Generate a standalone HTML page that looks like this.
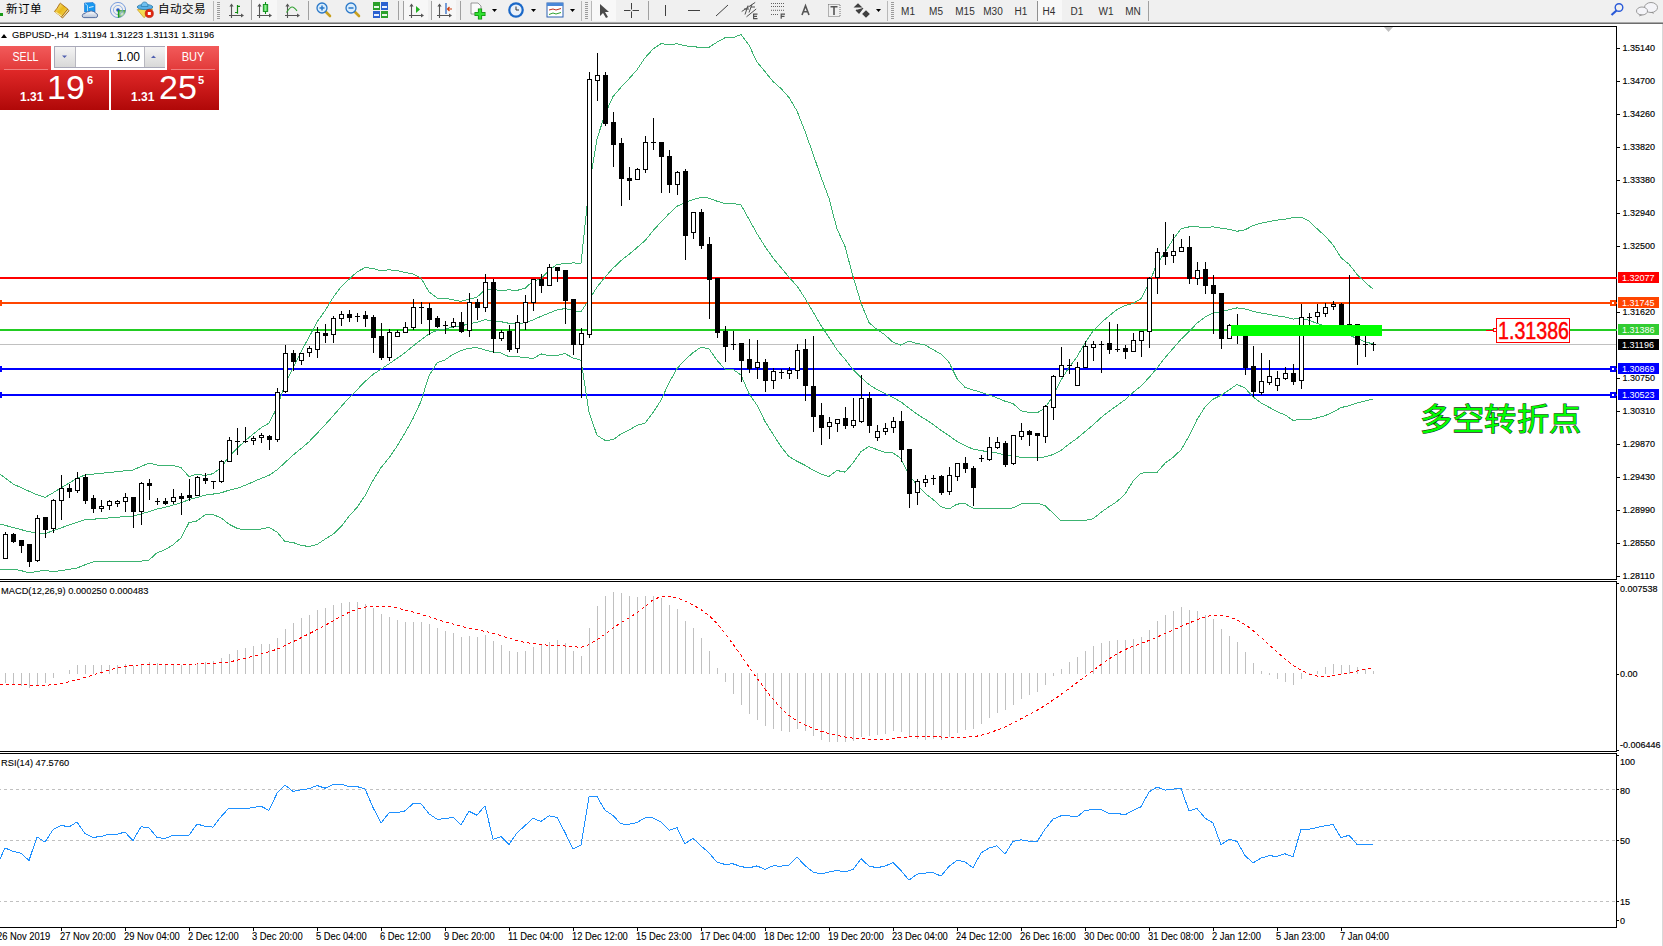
<!DOCTYPE html>
<html lang="zh-CN"><head><meta charset="utf-8">
<style>
html,body{margin:0;padding:0;width:1663px;height:946px;overflow:hidden;background:#fff;font-family:"Liberation Sans",sans-serif;}
#tb{position:absolute;left:0;top:0;width:1663px;height:22px;background:#f0f0f0;}
#tbl1{position:absolute;left:0;top:22px;width:1663px;height:1px;background:#a9a9a9;}
#tbl2{position:absolute;left:0;top:23px;width:1663px;height:1px;background:#6d6d6d;}
#rb{position:absolute;left:1662px;top:24px;width:1px;height:922px;background:#d8d8d8;}
#chart{position:absolute;left:0;top:0;}
.ax{font-family:"Liberation Sans",sans-serif;font-size:9.5px;fill:#000;stroke:#000;stroke-width:0.15px;}
.dt{font-family:"Liberation Sans",sans-serif;font-size:10px;fill:#000;stroke:#000;stroke-width:0.1px;}
.tg{font-family:"Liberation Sans",sans-serif;font-size:9.5px;fill:#fff;}
.lb{font-family:"Liberation Sans",sans-serif;font-size:9.3px;fill:#000;stroke:#000;stroke-width:0.1px;}
.tt{position:absolute;top:3px;font-size:11px;color:#000;white-space:nowrap;}
.sep{position:absolute;top:1px;width:1px;height:20px;background:#a0a0a0;}
.grip{position:absolute;top:2px;width:3px;height:18px;background:repeating-linear-gradient(#9a9a9a 0 1px,transparent 1px 2px);}
.per{position:absolute;top:6px;font-size:10px;color:#303030;}
.ocp{position:absolute;}
</style></head><body>
<div id="tb">
<svg style="position:absolute;left:0;top:0" width="1663" height="22">
<rect x="0" y="13" width="3" height="3" fill="#1a9a1a"/>
<defs><linearGradient id="bk" x1="0" y1="0" x2="1" y2="1"><stop offset="0" stop-color="#fff0a0"/><stop offset="0.5" stop-color="#e8b818"/><stop offset="1" stop-color="#f8e070"/></linearGradient><linearGradient id="cl" x1="0" y1="0" x2="0" y2="1"><stop offset="0" stop-color="#ffffff"/><stop offset="1" stop-color="#b8c4d8"/></linearGradient><radialGradient id="rg" cx="0.5" cy="0.5" r="0.5"><stop offset="0" stop-color="#e8f0e0"/><stop offset="1" stop-color="#40a040"/></radialGradient></defs>
<path d="M67.5,9 L69,10.8 L62.5,18 L61,16.6 Z" fill="#e8dca8" stroke="#a06410" stroke-width="0.9" stroke-linejoin="round"/>
<path d="M54.5,11.5 Q57.5,8 59,5 Q59.5,3.5 60.3,3.2 L67.8,9 L61.5,16.8 Z" fill="url(#bk)" stroke="#a86a10" stroke-width="0.9" stroke-linejoin="round"/>
<path d="M55.5,12 L61.5,16" stroke="#f8e8a0" stroke-width="1.2"/>
<path d="M84.5,3 L93,2.5 L95,4.5 L95,12 L84.5,12 Z" fill="#1898f0" stroke="#1a70d0" stroke-width="0.6"/>
<path d="M85,3.5 L87.5,5.5 L87.5,11.5" stroke="#c8ecff" stroke-width="0.8" fill="none"/>
<path d="M89,7.5 L93.5,6.5" stroke="#e0f4ff" stroke-width="1"/>
<path d="M83.8,17.6 Q82,17.5 82.3,15.3 Q82.7,13.2 85.2,13.5 Q86.2,11.2 89.2,11.6 Q90.8,10.2 93.2,11.4 Q95.2,11.8 95.6,13.2 Q98,13.6 97.6,16 Q97.4,17.6 95.6,17.6 Z" fill="url(#cl)" stroke="#4a6498" stroke-width="0.9"/>
<circle cx="118" cy="10" r="7.6" fill="none" stroke="#5a88d8" stroke-width="1" stroke-opacity="0.8"/>
<path d="M118,10 L118,17.6 A7.6,7.6 0 0 0 125.6,10 Z" fill="url(#rg)" fill-opacity="0.9"/>
<circle cx="118" cy="10" r="4.6" fill="none" stroke="#6a98e0" stroke-width="1" stroke-opacity="0.7"/>
<circle cx="118" cy="10" r="1.8" fill="#2858c8"/>
<path d="M118.5,10 L118.5,17.6" stroke="#20a020" stroke-width="1.3"/>
<path d="M137.3,9.6 L152.8,9 L144,17.7 Z" fill="#f4dc50" stroke="#c89820" stroke-width="0.7" stroke-linejoin="round"/>
<ellipse cx="145" cy="7" rx="7.8" ry="2.6" fill="#58b0e8" stroke="#2a78a8" stroke-width="0.8"/>
<path d="M141.2,6.5 Q141.5,2 144.5,2 Q147.8,2 148,6.5 Z" fill="#70c0f0" stroke="#2a78a8" stroke-width="0.7"/>
<circle cx="149.3" cy="13.5" r="4.1" fill="#e02810" stroke="#b01808" stroke-width="0.6"/>
<rect x="147.8" y="12" width="3" height="3" fill="#fff"/>
<rect x="213" y="1" width="1" height="20" fill="#b8b8b8"/>
<rect x="251" y="0" width="26" height="20" fill="#f7f7f7"/><rect x="251" y="0" width="1" height="20" fill="#a0a0a0"/>
<path d="M231.5,5 L231.5,18 M229,15.5 L242,15.5" stroke="#555" stroke-width="1.1" fill="none"/><path d="M229.4,6.6 L231.5,3.6 L233.6,6.6 Z M241,13.4 L244,15.5 L241,17.6 Z" fill="#555"/>
<path d="M237.5,5 L237.5,13.8 M235,12.5 L237.5,12.5 M237.5,6.3 L240,6.3" stroke="#108a10" stroke-width="1.2" fill="none"/>
<path d="M259.5,5 L259.5,18 M257,15.5 L270,15.5" stroke="#555" stroke-width="1.1" fill="none"/><path d="M257.4,6.6 L259.5,3.6 L261.6,6.6 Z M269,13.4 L272,15.5 L269,17.6 Z" fill="#555"/>
<defs><linearGradient id="cg" x1="0" y1="0" x2="1" y2="0"><stop offset="0" stop-color="#30c040"/><stop offset="0.5" stop-color="#90f090"/><stop offset="1" stop-color="#20b030"/></linearGradient></defs>
<path d="M265.5,2 L265.5,14" stroke="#10901a" stroke-width="1.1"/><rect x="263.3" y="4.5" width="4.4" height="7" fill="url(#cg)" stroke="#10901a" stroke-width="0.9"/>
<path d="M287.5,5 L287.5,18 M285,15.5 L298,15.5" stroke="#555" stroke-width="1.1" fill="none"/><path d="M285.4,6.6 L287.5,3.6 L289.6,6.6 Z M297,13.4 L300,15.5 L297,17.6 Z" fill="#555"/>
<path d="M286.5,12.5 Q290,7 292.2,7 Q294,7 297,10.8" stroke="#30a030" stroke-width="1.1" fill="none"/>
<rect x="308" y="1" width="1" height="19" fill="#a0a0a0"/>
<path d="M325,11 L330,16" stroke="#c8a020" stroke-width="2.6" stroke-linecap="round"/>
<circle cx="322" cy="8" r="5" fill="#d8ecfc" stroke="#2a78c8" stroke-width="1.3"/>
<path d="M319.5,8 L324.5,8" stroke="#2a78c8" stroke-width="1.5"/>
<path d="M322,5.5 L322,10.5" stroke="#2a78c8" stroke-width="1.5"/>
<path d="M354,11 L359,16" stroke="#c8a020" stroke-width="2.6" stroke-linecap="round"/>
<circle cx="351" cy="8" r="5" fill="#d8ecfc" stroke="#2a78c8" stroke-width="1.3"/>
<path d="M348.5,8 L353.5,8" stroke="#2a78c8" stroke-width="1.5"/>
<rect x="373" y="2" width="7" height="8" fill="#2aa02a"/><rect x="381" y="2" width="7" height="8" fill="#2a60d0"/>
<rect x="373" y="11" width="7" height="7" fill="#2a60d0"/><rect x="381" y="11" width="7" height="7" fill="#2aa02a"/>
<rect x="374" y="6" width="5" height="2" fill="#e8f8e8"/><rect x="382" y="6" width="5" height="2" fill="#e8f0ff"/><rect x="374" y="14" width="5" height="2" fill="#e8f0ff"/><rect x="382" y="14" width="5" height="2" fill="#e8f8e8"/>
<rect x="398" y="1" width="1" height="19" fill="#a0a0a0"/>
<rect x="404" y="0" width="24" height="20" fill="#f7f7f7"/><rect x="432" y="0" width="24" height="20" fill="#f7f7f7"/>
<rect x="403" y="1" width="1" height="19" fill="#a0a0a0"/>
<path d="M411.5,5 L411.5,18 M409,15.5 L422,15.5" stroke="#555" stroke-width="1.1" fill="none"/><path d="M409.4,6.6 L411.5,3.6 L413.6,6.6 Z M421,13.4 L424,15.5 L421,17.6 Z" fill="#555"/>
<path d="M416,6 L420,9.5 L416,13 Z" fill="#20b020"/>
<rect x="431" y="1" width="1" height="19" fill="#a0a0a0"/>
<path d="M439.5,5 L439.5,18 M437,15.5 L450,15.5" stroke="#555" stroke-width="1.1" fill="none"/><path d="M437.4,6.6 L439.5,3.6 L441.6,6.6 Z M449,13.4 L452,15.5 L449,17.6 Z" fill="#555"/>
<path d="M446,3 L446,14" stroke="#2060c0" stroke-width="1.2"/><path d="M452,9 L447.5,9 M449.5,7 L447.5,9 L449.5,11" stroke="#d04010" stroke-width="1.2" fill="none"/>
<rect x="460" y="1" width="1" height="19" fill="#a0a0a0"/>
<path d="M471,3 L478,3 L481,6 L481,14 L471,14 Z" fill="#fafafa" stroke="#808080" stroke-width="0.8"/>
<path d="M480,8.5 L480,19.5 M474.5,14 L485.5,14" stroke="#108a10" stroke-width="4.2"/><path d="M480,9.2 L480,18.8 M475.2,14 L484.8,14" stroke="#30e030" stroke-width="2.6"/>
<path d="M492,9 L497,9 L494.5,12 Z" fill="#000"/>
<circle cx="516" cy="10" r="7.8" fill="#1a68c8"/><circle cx="516" cy="10" r="5.6" fill="#e8f0fa"/><path d="M516,6.5 L516,10 L519,10" stroke="#333" stroke-width="1" fill="none"/>
<path d="M531,9 L536,9 L533.5,12 Z" fill="#000"/>
<rect x="547" y="3" width="16" height="14" fill="#fff" stroke="#2a60b0" stroke-width="1"/><rect x="547" y="3" width="16" height="3" fill="#4a88d8"/>
<path d="M549,10 L553,9 L556,10 L561,8.5" stroke="#c03020" stroke-width="1" fill="none"/><path d="M549,14.5 L553,13 L556,14 L561,12.5" stroke="#30a030" stroke-width="1" fill="none"/>
<path d="M570,9 L575,9 L572.5,12 Z" fill="#000"/>
<rect x="581" y="1" width="1" height="20" fill="#b8b8b8"/>
<rect x="592" y="0" width="24" height="21" fill="#f8f8f8"/>
<rect x="591" y="1" width="1" height="20" fill="#b8b8b8"/>
<path d="M600,4 L600,16 L603,13 L606,18 L608,17 L605,12 L609,12 Z" fill="#4a4a4a"/>
<path d="M631.5,3 L631.5,18 M624,10.5 L639,10.5" stroke="#404040" stroke-width="1" shape-rendering="crispEdges"/><rect x="630.5" y="9.5" width="2" height="2" fill="#f0f0f0"/>
<rect x="648" y="1" width="1" height="19" fill="#a0a0a0"/>
<path d="M665.5,5 L665.5,16 M688,10.5 L700,10.5" stroke="#404040" stroke-width="1" shape-rendering="crispEdges"/>
<path d="M716,16 L728,5" stroke="#404040" stroke-width="1"/>
<path d="M741.7,11.5 L755.2,2.4 M746.5,16.8 L756.2,9 M744,9 L749,9 M748,5.5 L745,14.5 M752,4.5 L749,12.5 M750.5,7 L755,7" stroke="#505050" stroke-width="1" fill="none"/>
<path d="M757.5,14.2 L753.6,14.2 L753.6,18.6 L757.5,18.6 M753.6,16.4 L757,16.4" stroke="#505050" stroke-width="1.2" fill="none"/>
<path d="M771,3.5 L784,3.5 M771,6.5 L784,6.5 M771,10.3 L784,10.3 M771,14.5 L779,14.5" stroke="#505050" stroke-width="0.9" stroke-dasharray="1 1"/>
<path d="M785,14.2 L781.2,14.2 L781.2,18.8 M781.2,16.4 L784.5,16.4" stroke="#505050" stroke-width="1.2" fill="none"/>
<path d="M802,15 L805.5,5.8 L809,15 M803.3,11.8 L807.7,11.8" stroke="#555" stroke-width="1.6" fill="none"/>
<rect x="828.5" y="4.5" width="11.5" height="12" fill="none" stroke="#606060" stroke-width="0.9" stroke-dasharray="1 1"/><path d="M830.5,6.8 L837.5,6.8 M834,6.8 L834,15" stroke="#555" stroke-width="1.6"/>
<path d="M855,7 L858,4 L861,7 Z M863,14 L866,11 L869,14 L866,17 Z M856,10 L859,13 L863,8" fill="#404040" stroke="#404040" stroke-width="1.2"/>
<path d="M876,9 L881,9 L878.5,12 Z" fill="#000"/>
<rect x="887" y="1" width="1" height="20" fill="#b8b8b8"/>
<rect x="1037" y="0" width="25" height="21" fill="#f8f8f8"/><rect x="1037" y="1" width="1" height="20" fill="#909090"/>
<rect x="1148" y="1" width="1" height="20" fill="#a0a0a0"/>
<circle cx="1619" cy="7.5" r="3.8" fill="none" stroke="#2a5ad8" stroke-width="1.4"/><path d="M1616.5,10.5 L1611.5,15" stroke="#2a5ad8" stroke-width="2.2"/>
<ellipse cx="1651" cy="7.5" rx="6.5" ry="5" fill="#f4f4f8" stroke="#909090" stroke-width="0.9"/><path d="M1653,12 L1654,14 L1650,12" fill="#909090"/>
<ellipse cx="1642" cy="11" rx="5.5" ry="4" fill="#f4f4f8" stroke="#909090" stroke-width="0.9"/><path d="M1640,14.5 L1639,16.5 L1643,14.8" fill="#909090"/>
</svg>
<div class="grip" style="left:217px"></div>
<div class="grip" style="left:585px"></div>
<div class="grip" style="left:891px"></div>
<div class="tt" style="left:6px;top:0px;font-size:11.6px">新订单</div>
<div class="tt" style="left:158px;top:0px;font-size:11.6px">自动交易</div>
<div class="per" style="left:908px;transform:translateX(-50%)">M1</div>
<div class="per" style="left:936px;transform:translateX(-50%)">M5</div>
<div class="per" style="left:965px;transform:translateX(-50%)">M15</div>
<div class="per" style="left:993px;transform:translateX(-50%)">M30</div>
<div class="per" style="left:1021px;transform:translateX(-50%)">H1</div>
<div class="per" style="left:1049px;transform:translateX(-50%)">H4</div>
<div class="per" style="left:1077px;transform:translateX(-50%)">D1</div>
<div class="per" style="left:1106px;transform:translateX(-50%)">W1</div>
<div class="per" style="left:1133px;transform:translateX(-50%)">MN</div>
</div>
<div id="tbl1"></div><div id="tbl2"></div><div id="rb"></div>
<svg id="chart" width="1663" height="946">
<g shape-rendering="crispEdges">
<rect x="0" y="26" width="1617" height="1" fill="#000"/>
<rect x="1616" y="26" width="1" height="554" fill="#000"/>
<rect x="1616" y="581" width="1" height="171" fill="#000"/>
<rect x="1616" y="753" width="1" height="175" fill="#000"/>
<rect x="0" y="579" width="1617" height="1" fill="#000"/>
<rect x="0" y="581" width="1617" height="1" fill="#000"/>
<rect x="0" y="751" width="1617" height="1" fill="#000"/>
<rect x="0" y="753" width="1617" height="1" fill="#000"/>
<rect x="0" y="927" width="1617" height="1" fill="#000"/>
</g>
<polygon points="1384,27 1393,27 1388.5,32" fill="#c0c0c0"/>
<g shape-rendering="crispEdges">
<rect x="1617" y="48" width="3" height="1" fill="#000"/>
<rect x="1617" y="81" width="3" height="1" fill="#000"/>
<rect x="1617" y="114" width="3" height="1" fill="#000"/>
<rect x="1617" y="147" width="3" height="1" fill="#000"/>
<rect x="1617" y="180" width="3" height="1" fill="#000"/>
<rect x="1617" y="213" width="3" height="1" fill="#000"/>
<rect x="1617" y="246" width="3" height="1" fill="#000"/>
<rect x="1617" y="312" width="3" height="1" fill="#000"/>
<rect x="1617" y="378" width="3" height="1" fill="#000"/>
<rect x="1617" y="411" width="3" height="1" fill="#000"/>
<rect x="1617" y="444" width="3" height="1" fill="#000"/>
<rect x="1617" y="477" width="3" height="1" fill="#000"/>
<rect x="1617" y="510" width="3" height="1" fill="#000"/>
<rect x="1617" y="543" width="3" height="1" fill="#000"/>
<rect x="1617" y="576" width="3" height="1" fill="#000"/>
</g>
<text transform="translate(1622.5,51.3) scale(0.95,1)" class="ax">1.35140</text>
<text transform="translate(1622.5,84.3) scale(0.95,1)" class="ax">1.34700</text>
<text transform="translate(1622.5,117.3) scale(0.95,1)" class="ax">1.34260</text>
<text transform="translate(1622.5,150.3) scale(0.95,1)" class="ax">1.33820</text>
<text transform="translate(1622.5,183.3) scale(0.95,1)" class="ax">1.33380</text>
<text transform="translate(1622.5,216.3) scale(0.95,1)" class="ax">1.32940</text>
<text transform="translate(1622.5,249.3) scale(0.95,1)" class="ax">1.32500</text>
<text transform="translate(1622.5,315.3) scale(0.95,1)" class="ax">1.31620</text>
<text transform="translate(1622.5,381.3) scale(0.95,1)" class="ax">1.30750</text>
<text transform="translate(1622.5,414.3) scale(0.95,1)" class="ax">1.30310</text>
<text transform="translate(1622.5,447.3) scale(0.95,1)" class="ax">1.29870</text>
<text transform="translate(1622.5,480.3) scale(0.95,1)" class="ax">1.29430</text>
<text transform="translate(1622.5,513.3) scale(0.95,1)" class="ax">1.28990</text>
<text transform="translate(1622.5,546.3) scale(0.95,1)" class="ax">1.28550</text>
<text transform="translate(1622.5,579.3) scale(0.95,1)" class="ax">1.28110</text>
<g shape-rendering="crispEdges">
<rect x="0" y="344" width="1616" height="1" fill="#c0c0c0"/>
<rect x="0" y="277" width="1617" height="2" fill="#ff0000"/>
<rect x="0" y="302" width="1617" height="2" fill="#ff4500"/>
<rect x="0" y="329" width="1617" height="2" fill="#22cc22"/>
<rect x="0" y="368" width="1617" height="2" fill="#0000ff"/>
<rect x="0" y="394" width="1617" height="2" fill="#0000ff"/>
</g>
<polyline points="0,474.0 5,477.8 13,484.0 21,487.6 29,491.2 37,494.8 45,497.4 53,492.8 61,487.9 69,483.1 77,478.5 85,474.9 93,474.1 101,473.3 109,472.5 117,471.7 125,470.8 133,470.0 141,466.5 149,463.0 157,465.0 165,465.0 173,465.5 181,467.6 189,476.6 197,474.2 205,475.4 213,473.7 221,467.8 229,456.3 237,448.5 245,440.9 253,434.2 261,427.8 269,423.1 277,407.7 285,383.7 293,367.9 301,351.8 309,337.2 317,322.1 325,310.7 333,297.7 341,286.9 349,279.3 357,272.0 365,267.6 373,268.5 381,270.9 389,269.8 397,270.5 405,272.5 413,273.8 421,278.2 429,291.8 437,298.0 445,298.2 453,299.9 461,301.4 469,299.2 477,297.2 485,289.7 493,289.7 501,290.4 509,289.9 517,290.4 525,288.3 533,281.2 541,278.7 549,270.5 557,264.5 565,263.6 573,262.9 581,263.3 589,187.5 597,139.1 605,113.9 613,96.6 621,87.2 629,78.8 637,69.8 645,57.9 653,49.0 661,43.6 669,44.6 677,43.8 685,45.9 693,46.3 701,47.9 709,47.3 717,42.2 725,37.7 733,37.7 741,34.5 749,45.1 757,62.1 765,71.6 773,81.5 781,88.5 789,97.5 797,111.0 805,131.3 813,153.8 821,177.0 829,198.3 837,229.0 845,246.4 853,276.4 861,303.0 869,322.7 877,329.5 885,334.9 893,342.2 901,345.2 909,341.2 917,343.5 925,345.0 933,349.5 941,354.1 949,362.3 957,378.6 965,387.4 973,389.9 981,392.2 989,394.9 997,397.9 1005,401.2 1013,403.5 1021,410.8 1029,412.3 1037,413.0 1045,408.1 1053,396.2 1061,380.1 1069,367.4 1077,356.7 1085,343.0 1093,331.2 1101,322.8 1109,315.9 1117,309.6 1125,305.4 1133,303.6 1141,298.8 1149,283.2 1157,263.8 1165,252.2 1173,239.6 1181,228.7 1189,226.9 1197,226.9 1205,227.4 1213,226.9 1221,228.1 1229,229.4 1237,231.3 1245,229.8 1253,225.6 1261,223.2 1269,221.7 1277,220.1 1285,219.2 1293,217.7 1301,217.2 1309,220.8 1317,228.7 1325,236.0 1333,244.8 1341,257.7 1349,264.2 1357,274.4 1365,282.2 1373,289.1" fill="none" stroke="#3cb371" stroke-width="1" shape-rendering="crispEdges"/>
<polyline points="0,524.0 5,525.3 13,527.5 21,529.6 29,531.7 37,533.0 45,533.6 53,530.8 61,527.9 69,525.0 77,522.2 85,519.8 93,519.2 101,518.6 109,517.9 117,517.3 125,516.6 133,516.0 141,513.9 149,511.7 157,508.9 165,507.4 173,505.1 181,502.8 189,499.6 197,497.6 205,495.1 213,494.1 221,492.8 229,490.2 237,488.4 245,485.4 253,481.9 261,478.4 269,475.3 277,469.9 285,462.6 293,455.1 301,448.6 309,441.8 317,433.4 325,424.9 333,416.0 341,406.8 349,397.8 357,389.8 365,381.6 373,374.4 381,369.2 389,363.9 397,358.4 405,352.7 413,346.1 421,339.8 429,333.8 437,330.4 445,329.1 453,327.1 461,326.0 469,323.7 477,322.4 485,319.8 493,320.8 501,321.7 509,323.3 517,323.6 525,322.8 533,319.9 541,316.3 549,313.1 557,309.9 565,308.6 573,310.4 581,311.8 589,299.8 597,287.2 605,277.1 613,268.2 621,260.6 629,254.4 637,247.6 645,240.6 653,230.8 661,221.9 669,213.7 677,206.2 685,202.8 693,199.5 701,197.5 709,198.1 717,201.2 725,203.5 733,203.5 741,204.8 749,219.3 757,233.7 765,246.5 773,257.9 781,267.6 789,277.1 797,286.1 805,298.2 813,311.9 821,325.5 829,337.4 837,349.8 845,359.2 853,369.6 861,377.3 869,384.6 877,389.6 885,393.6 893,397.5 901,401.9 909,408.2 917,414.1 925,419.1 933,424.4 941,430.4 949,435.7 957,441.4 965,445.5 973,449.1 981,450.6 989,451.9 997,453.0 1005,454.9 1013,455.7 1021,457.4 1029,457.8 1037,458.0 1045,456.9 1053,454.6 1061,450.4 1069,444.1 1077,438.4 1085,431.7 1093,425.0 1101,417.6 1109,411.3 1117,405.6 1125,399.8 1133,392.4 1141,386.1 1149,377.6 1157,368.1 1165,357.7 1173,348.5 1181,339.3 1189,331.5 1197,323.2 1205,317.2 1213,313.1 1221,311.7 1229,309.7 1237,307.9 1245,308.9 1253,311.2 1261,313.1 1269,314.4 1277,315.9 1285,317.0 1293,319.1 1301,318.4 1309,320.3 1317,323.3 1325,325.9 1333,328.5 1341,332.6 1349,334.9 1357,338.6 1365,341.6 1373,344.1" fill="none" stroke="#3cb371" stroke-width="1" shape-rendering="crispEdges"/>
<polyline points="0,570.0 5,569.7 13,569.1 21,570.6 29,572.7 37,571.5 45,570.2 53,571.8 61,570.6 69,569.3 77,568.0 85,564.8 93,562.0 101,561.8 109,561.7 117,561.6 125,561.4 133,561.3 141,561.1 149,560.0 157,552.8 165,549.7 173,544.8 181,538.0 189,522.6 197,520.9 205,514.8 213,514.6 221,517.8 229,524.2 237,528.3 245,530.0 253,529.7 261,529.0 269,527.5 277,532.0 285,541.6 293,542.4 301,545.5 309,546.4 317,544.6 325,539.2 333,534.3 341,526.7 349,516.3 357,507.5 365,495.7 373,480.4 381,467.6 389,457.9 397,446.3 405,432.9 413,418.5 421,401.3 429,375.7 437,362.9 445,359.9 453,354.3 461,350.6 469,348.2 477,347.7 485,349.9 493,351.9 501,353.0 509,356.7 517,356.8 525,357.3 533,358.6 541,353.9 549,355.6 557,355.4 565,353.6 573,358.0 581,360.2 589,412.0 597,435.3 605,440.3 613,439.8 621,433.9 629,430.1 637,425.3 645,423.2 653,412.5 661,400.3 669,382.8 677,368.6 685,359.8 693,352.7 701,347.1 709,348.9 717,360.2 725,369.3 733,369.3 741,375.2 749,393.5 757,405.2 765,421.4 773,434.2 781,446.6 789,456.6 797,461.2 805,465.2 813,470.1 821,474.0 829,476.5 837,470.5 845,472.1 853,462.9 861,451.6 869,446.5 877,449.6 885,452.4 893,452.8 901,458.7 909,475.2 917,484.8 925,493.2 933,499.4 941,506.8 949,509.1 957,504.1 965,503.6 973,508.2 981,509.0 989,508.8 997,508.1 1005,508.7 1013,507.9 1021,503.9 1029,503.3 1037,503.0 1045,505.7 1053,513.1 1061,520.8 1069,520.7 1077,520.0 1085,520.4 1093,518.8 1101,512.4 1109,506.7 1117,501.6 1125,494.1 1133,481.2 1141,473.3 1149,472.0 1157,472.4 1165,463.2 1173,457.4 1181,449.9 1189,436.1 1197,419.6 1205,407.0 1213,399.2 1221,395.3 1229,390.0 1237,384.4 1245,388.0 1253,396.9 1261,403.0 1269,407.2 1277,411.7 1285,414.8 1293,420.4 1301,419.5 1309,419.8 1317,417.9 1325,415.7 1333,412.2 1341,407.6 1349,405.7 1357,402.9 1365,401.0 1373,399.2" fill="none" stroke="#3cb371" stroke-width="1" shape-rendering="crispEdges"/>
<g shape-rendering="crispEdges" fill="#000">
<rect x="5" y="532" width="1" height="27"/>
<rect x="3" y="534" width="5" height="25"/>
<rect x="4" y="535" width="3" height="23" fill="#fff"/>
<rect x="13" y="533" width="1" height="10"/>
<rect x="11" y="534" width="5" height="8"/>
<rect x="21" y="540" width="1" height="13"/>
<rect x="19" y="540" width="5" height="6"/>
<rect x="29" y="544" width="1" height="23"/>
<rect x="27" y="544" width="5" height="18"/>
<rect x="37" y="515" width="1" height="47"/>
<rect x="35" y="518" width="5" height="43"/>
<rect x="36" y="519" width="3" height="41" fill="#fff"/>
<rect x="45" y="517" width="1" height="21"/>
<rect x="43" y="517" width="5" height="13"/>
<rect x="53" y="499" width="1" height="34"/>
<rect x="51" y="500" width="5" height="29"/>
<rect x="52" y="501" width="3" height="27" fill="#fff"/>
<rect x="61" y="475" width="1" height="45"/>
<rect x="59" y="488" width="5" height="13"/>
<rect x="60" y="489" width="3" height="11" fill="#fff"/>
<rect x="69" y="484" width="1" height="14"/>
<rect x="67" y="488" width="5" height="4"/>
<rect x="77" y="472" width="1" height="21"/>
<rect x="75" y="478" width="5" height="13"/>
<rect x="76" y="479" width="3" height="11" fill="#fff"/>
<rect x="85" y="474" width="1" height="30"/>
<rect x="83" y="477" width="5" height="24"/>
<rect x="93" y="495" width="1" height="18"/>
<rect x="91" y="498" width="5" height="11"/>
<rect x="101" y="500" width="1" height="12"/>
<rect x="99" y="506" width="5" height="3"/>
<rect x="100" y="507" width="3" height="1" fill="#fff"/>
<rect x="109" y="500" width="1" height="10"/>
<rect x="107" y="501" width="5" height="5"/>
<rect x="108" y="502" width="3" height="3" fill="#fff"/>
<rect x="117" y="500" width="1" height="7"/>
<rect x="115" y="501" width="5" height="3"/>
<rect x="116" y="502" width="3" height="1" fill="#fff"/>
<rect x="125" y="493" width="1" height="19"/>
<rect x="123" y="497" width="5" height="5"/>
<rect x="124" y="498" width="3" height="3" fill="#fff"/>
<rect x="133" y="497" width="1" height="31"/>
<rect x="131" y="497" width="5" height="15"/>
<rect x="141" y="482" width="1" height="43"/>
<rect x="139" y="483" width="5" height="29"/>
<rect x="140" y="484" width="3" height="27" fill="#fff"/>
<rect x="149" y="479" width="1" height="21"/>
<rect x="147" y="483" width="5" height="3"/>
<rect x="157" y="498" width="1" height="7"/>
<rect x="155" y="501" width="5" height="1"/>
<rect x="165" y="498" width="1" height="7"/>
<rect x="163" y="501" width="5" height="3"/>
<rect x="173" y="489" width="1" height="15"/>
<rect x="171" y="497" width="5" height="5"/>
<rect x="172" y="498" width="3" height="3" fill="#fff"/>
<rect x="181" y="493" width="1" height="22"/>
<rect x="179" y="496" width="5" height="3"/>
<rect x="189" y="479" width="1" height="22"/>
<rect x="187" y="495" width="5" height="3"/>
<rect x="197" y="476" width="1" height="20"/>
<rect x="195" y="477" width="5" height="19"/>
<rect x="196" y="478" width="3" height="17" fill="#fff"/>
<rect x="205" y="473" width="1" height="11"/>
<rect x="203" y="478" width="5" height="3"/>
<rect x="213" y="481" width="1" height="8"/>
<rect x="211" y="481" width="5" height="1"/>
<rect x="221" y="460" width="1" height="23"/>
<rect x="219" y="461" width="5" height="21"/>
<rect x="220" y="462" width="3" height="19" fill="#fff"/>
<rect x="229" y="437" width="1" height="25"/>
<rect x="227" y="440" width="5" height="22"/>
<rect x="228" y="441" width="3" height="20" fill="#fff"/>
<rect x="237" y="428" width="1" height="27"/>
<rect x="235" y="441" width="5" height="1"/>
<rect x="245" y="427" width="1" height="16"/>
<rect x="243" y="441" width="5" height="1"/>
<rect x="253" y="436" width="1" height="9"/>
<rect x="251" y="438" width="5" height="3"/>
<rect x="252" y="439" width="3" height="1" fill="#fff"/>
<rect x="261" y="433" width="1" height="10"/>
<rect x="259" y="435" width="5" height="3"/>
<rect x="260" y="436" width="3" height="1" fill="#fff"/>
<rect x="269" y="435" width="1" height="15"/>
<rect x="267" y="436" width="5" height="4"/>
<rect x="277" y="388" width="1" height="54"/>
<rect x="275" y="392" width="5" height="48"/>
<rect x="276" y="393" width="3" height="46" fill="#fff"/>
<rect x="285" y="345" width="1" height="48"/>
<rect x="283" y="353" width="5" height="39"/>
<rect x="284" y="354" width="3" height="37" fill="#fff"/>
<rect x="293" y="350" width="1" height="21"/>
<rect x="291" y="353" width="5" height="9"/>
<rect x="301" y="353" width="1" height="12"/>
<rect x="299" y="353" width="5" height="8"/>
<rect x="300" y="354" width="3" height="6" fill="#fff"/>
<rect x="309" y="346" width="1" height="11"/>
<rect x="307" y="348" width="5" height="5"/>
<rect x="308" y="349" width="3" height="3" fill="#fff"/>
<rect x="317" y="327" width="1" height="31"/>
<rect x="315" y="332" width="5" height="18"/>
<rect x="316" y="333" width="3" height="16" fill="#fff"/>
<rect x="325" y="324" width="1" height="19"/>
<rect x="323" y="333" width="5" height="3"/>
<rect x="333" y="316" width="1" height="27"/>
<rect x="331" y="318" width="5" height="17"/>
<rect x="332" y="319" width="3" height="15" fill="#fff"/>
<rect x="341" y="311" width="1" height="15"/>
<rect x="339" y="314" width="5" height="5"/>
<rect x="340" y="315" width="3" height="3" fill="#fff"/>
<rect x="349" y="310" width="1" height="12"/>
<rect x="347" y="314" width="5" height="4"/>
<rect x="357" y="313" width="1" height="9"/>
<rect x="355" y="316" width="5" height="1"/>
<rect x="365" y="311" width="1" height="16"/>
<rect x="363" y="315" width="5" height="4"/>
<rect x="373" y="315" width="1" height="38"/>
<rect x="371" y="317" width="5" height="21"/>
<rect x="381" y="323" width="1" height="37"/>
<rect x="379" y="336" width="5" height="22"/>
<rect x="389" y="329" width="1" height="32"/>
<rect x="387" y="332" width="5" height="26"/>
<rect x="388" y="333" width="3" height="24" fill="#fff"/>
<rect x="397" y="330" width="1" height="7"/>
<rect x="395" y="332" width="5" height="5"/>
<rect x="396" y="333" width="3" height="3" fill="#fff"/>
<rect x="405" y="322" width="1" height="11"/>
<rect x="403" y="327" width="5" height="6"/>
<rect x="404" y="328" width="3" height="4" fill="#fff"/>
<rect x="413" y="299" width="1" height="31"/>
<rect x="411" y="307" width="5" height="21"/>
<rect x="412" y="308" width="3" height="19" fill="#fff"/>
<rect x="421" y="302" width="1" height="22"/>
<rect x="419" y="307" width="5" height="1"/>
<rect x="429" y="303" width="1" height="32"/>
<rect x="427" y="308" width="5" height="12"/>
<rect x="437" y="316" width="1" height="12"/>
<rect x="435" y="318" width="5" height="9"/>
<rect x="445" y="321" width="1" height="13"/>
<rect x="443" y="325" width="5" height="1"/>
<rect x="453" y="318" width="1" height="10"/>
<rect x="451" y="322" width="5" height="5"/>
<rect x="452" y="323" width="3" height="3" fill="#fff"/>
<rect x="461" y="312" width="1" height="21"/>
<rect x="459" y="322" width="5" height="10"/>
<rect x="469" y="293" width="1" height="44"/>
<rect x="467" y="302" width="5" height="29"/>
<rect x="468" y="303" width="3" height="27" fill="#fff"/>
<rect x="477" y="299" width="1" height="21"/>
<rect x="475" y="302" width="5" height="6"/>
<rect x="485" y="274" width="1" height="38"/>
<rect x="483" y="282" width="5" height="26"/>
<rect x="484" y="283" width="3" height="24" fill="#fff"/>
<rect x="493" y="279" width="1" height="74"/>
<rect x="491" y="282" width="5" height="57"/>
<rect x="501" y="330" width="1" height="11"/>
<rect x="499" y="332" width="5" height="7"/>
<rect x="500" y="333" width="3" height="5" fill="#fff"/>
<rect x="509" y="325" width="1" height="27"/>
<rect x="507" y="331" width="5" height="19"/>
<rect x="517" y="315" width="1" height="38"/>
<rect x="515" y="322" width="5" height="27"/>
<rect x="516" y="323" width="3" height="25" fill="#fff"/>
<rect x="525" y="295" width="1" height="35"/>
<rect x="523" y="302" width="5" height="21"/>
<rect x="524" y="303" width="3" height="19" fill="#fff"/>
<rect x="533" y="279" width="1" height="32"/>
<rect x="531" y="279" width="5" height="24"/>
<rect x="532" y="280" width="3" height="22" fill="#fff"/>
<rect x="541" y="274" width="1" height="19"/>
<rect x="539" y="279" width="5" height="7"/>
<rect x="549" y="264" width="1" height="22"/>
<rect x="547" y="267" width="5" height="19"/>
<rect x="548" y="268" width="3" height="17" fill="#fff"/>
<rect x="557" y="267" width="1" height="15"/>
<rect x="555" y="267" width="5" height="4"/>
<rect x="565" y="270" width="1" height="54"/>
<rect x="563" y="270" width="5" height="31"/>
<rect x="573" y="299" width="1" height="56"/>
<rect x="571" y="299" width="5" height="46"/>
<rect x="581" y="328" width="1" height="70"/>
<rect x="579" y="333" width="5" height="12"/>
<rect x="580" y="334" width="3" height="10" fill="#fff"/>
<rect x="589" y="72" width="1" height="266"/>
<rect x="587" y="79" width="5" height="256"/>
<rect x="588" y="80" width="3" height="254" fill="#fff"/>
<rect x="597" y="53" width="1" height="48"/>
<rect x="595" y="75" width="5" height="6"/>
<rect x="596" y="76" width="3" height="4" fill="#fff"/>
<rect x="605" y="72" width="1" height="54"/>
<rect x="603" y="75" width="5" height="49"/>
<rect x="613" y="112" width="1" height="55"/>
<rect x="611" y="122" width="5" height="23"/>
<rect x="621" y="138" width="1" height="68"/>
<rect x="619" y="143" width="5" height="36"/>
<rect x="629" y="167" width="1" height="33"/>
<rect x="627" y="178" width="5" height="3"/>
<rect x="637" y="168" width="1" height="12"/>
<rect x="635" y="169" width="5" height="11"/>
<rect x="636" y="170" width="3" height="9" fill="#fff"/>
<rect x="645" y="136" width="1" height="37"/>
<rect x="643" y="142" width="5" height="28"/>
<rect x="644" y="143" width="3" height="26" fill="#fff"/>
<rect x="653" y="118" width="1" height="32"/>
<rect x="651" y="142" width="5" height="1"/>
<rect x="661" y="142" width="1" height="51"/>
<rect x="659" y="142" width="5" height="15"/>
<rect x="669" y="150" width="1" height="43"/>
<rect x="667" y="156" width="5" height="29"/>
<rect x="677" y="171" width="1" height="24"/>
<rect x="675" y="172" width="5" height="13"/>
<rect x="676" y="173" width="3" height="11" fill="#fff"/>
<rect x="685" y="169" width="1" height="91"/>
<rect x="683" y="171" width="5" height="65"/>
<rect x="693" y="212" width="1" height="27"/>
<rect x="691" y="212" width="5" height="21"/>
<rect x="692" y="213" width="3" height="19" fill="#fff"/>
<rect x="701" y="209" width="1" height="40"/>
<rect x="699" y="212" width="5" height="34"/>
<rect x="709" y="237" width="1" height="82"/>
<rect x="707" y="244" width="5" height="36"/>
<rect x="717" y="278" width="1" height="60"/>
<rect x="715" y="278" width="5" height="55"/>
<rect x="725" y="326" width="1" height="36"/>
<rect x="723" y="331" width="5" height="16"/>
<rect x="733" y="331" width="1" height="19"/>
<rect x="731" y="344" width="5" height="1"/>
<rect x="741" y="343" width="1" height="39"/>
<rect x="739" y="343" width="5" height="18"/>
<rect x="749" y="339" width="1" height="34"/>
<rect x="747" y="359" width="5" height="10"/>
<rect x="757" y="340" width="1" height="39"/>
<rect x="755" y="362" width="5" height="6"/>
<rect x="756" y="363" width="3" height="4" fill="#fff"/>
<rect x="765" y="359" width="1" height="33"/>
<rect x="763" y="362" width="5" height="19"/>
<rect x="773" y="368" width="1" height="21"/>
<rect x="771" y="371" width="5" height="10"/>
<rect x="772" y="372" width="3" height="8" fill="#fff"/>
<rect x="781" y="369" width="1" height="10"/>
<rect x="779" y="372" width="5" height="1"/>
<rect x="789" y="367" width="1" height="12"/>
<rect x="787" y="370" width="5" height="4"/>
<rect x="788" y="371" width="3" height="2" fill="#fff"/>
<rect x="797" y="344" width="1" height="35"/>
<rect x="795" y="350" width="5" height="21"/>
<rect x="796" y="351" width="3" height="19" fill="#fff"/>
<rect x="805" y="339" width="1" height="62"/>
<rect x="803" y="349" width="5" height="37"/>
<rect x="813" y="336" width="1" height="96"/>
<rect x="811" y="386" width="5" height="31"/>
<rect x="821" y="403" width="1" height="42"/>
<rect x="819" y="415" width="5" height="13"/>
<rect x="829" y="417" width="1" height="22"/>
<rect x="827" y="422" width="5" height="5"/>
<rect x="828" y="423" width="3" height="3" fill="#fff"/>
<rect x="837" y="419" width="1" height="13"/>
<rect x="835" y="419" width="5" height="5"/>
<rect x="836" y="420" width="3" height="3" fill="#fff"/>
<rect x="845" y="407" width="1" height="22"/>
<rect x="843" y="418" width="5" height="8"/>
<rect x="853" y="398" width="1" height="30"/>
<rect x="851" y="420" width="5" height="6"/>
<rect x="852" y="421" width="3" height="4" fill="#fff"/>
<rect x="861" y="375" width="1" height="48"/>
<rect x="859" y="398" width="5" height="24"/>
<rect x="860" y="399" width="3" height="22" fill="#fff"/>
<rect x="869" y="392" width="1" height="41"/>
<rect x="867" y="398" width="5" height="28"/>
<rect x="877" y="425" width="1" height="16"/>
<rect x="875" y="431" width="5" height="7"/>
<rect x="876" y="432" width="3" height="5" fill="#fff"/>
<rect x="885" y="423" width="1" height="12"/>
<rect x="883" y="428" width="5" height="4"/>
<rect x="884" y="429" width="3" height="2" fill="#fff"/>
<rect x="893" y="417" width="1" height="16"/>
<rect x="891" y="421" width="5" height="7"/>
<rect x="892" y="422" width="3" height="5" fill="#fff"/>
<rect x="901" y="411" width="1" height="51"/>
<rect x="899" y="421" width="5" height="29"/>
<rect x="909" y="449" width="1" height="59"/>
<rect x="907" y="449" width="5" height="45"/>
<rect x="917" y="479" width="1" height="26"/>
<rect x="915" y="481" width="5" height="12"/>
<rect x="916" y="482" width="3" height="10" fill="#fff"/>
<rect x="925" y="475" width="1" height="12"/>
<rect x="923" y="479" width="5" height="4"/>
<rect x="924" y="480" width="3" height="2" fill="#fff"/>
<rect x="933" y="475" width="1" height="10"/>
<rect x="931" y="478" width="5" height="1"/>
<rect x="941" y="475" width="1" height="20"/>
<rect x="939" y="476" width="5" height="17"/>
<rect x="949" y="467" width="1" height="28"/>
<rect x="947" y="475" width="5" height="17"/>
<rect x="948" y="476" width="3" height="15" fill="#fff"/>
<rect x="957" y="463" width="1" height="18"/>
<rect x="955" y="463" width="5" height="14"/>
<rect x="956" y="464" width="3" height="12" fill="#fff"/>
<rect x="965" y="457" width="1" height="16"/>
<rect x="963" y="463" width="5" height="6"/>
<rect x="973" y="466" width="1" height="40"/>
<rect x="971" y="468" width="5" height="20"/>
<rect x="981" y="455" width="1" height="7"/>
<rect x="979" y="458" width="5" height="1"/>
<rect x="989" y="437" width="1" height="24"/>
<rect x="987" y="447" width="5" height="13"/>
<rect x="988" y="448" width="3" height="11" fill="#fff"/>
<rect x="997" y="437" width="1" height="12"/>
<rect x="995" y="442" width="5" height="6"/>
<rect x="996" y="443" width="3" height="4" fill="#fff"/>
<rect x="1005" y="441" width="1" height="26"/>
<rect x="1003" y="443" width="5" height="22"/>
<rect x="1013" y="435" width="1" height="30"/>
<rect x="1011" y="435" width="5" height="29"/>
<rect x="1012" y="436" width="3" height="27" fill="#fff"/>
<rect x="1021" y="423" width="1" height="17"/>
<rect x="1019" y="431" width="5" height="6"/>
<rect x="1020" y="432" width="3" height="4" fill="#fff"/>
<rect x="1029" y="430" width="1" height="16"/>
<rect x="1027" y="431" width="5" height="4"/>
<rect x="1037" y="433" width="1" height="28"/>
<rect x="1035" y="433" width="5" height="3"/>
<rect x="1045" y="405" width="1" height="38"/>
<rect x="1043" y="406" width="5" height="31"/>
<rect x="1044" y="407" width="3" height="29" fill="#fff"/>
<rect x="1053" y="375" width="1" height="45"/>
<rect x="1051" y="376" width="5" height="32"/>
<rect x="1052" y="377" width="3" height="30" fill="#fff"/>
<rect x="1061" y="347" width="1" height="30"/>
<rect x="1059" y="365" width="5" height="12"/>
<rect x="1060" y="366" width="3" height="10" fill="#fff"/>
<rect x="1069" y="359" width="1" height="15"/>
<rect x="1067" y="365" width="5" height="1"/>
<rect x="1077" y="362" width="1" height="24"/>
<rect x="1075" y="367" width="5" height="19"/>
<rect x="1076" y="368" width="3" height="17" fill="#fff"/>
<rect x="1085" y="341" width="1" height="27"/>
<rect x="1083" y="346" width="5" height="22"/>
<rect x="1084" y="347" width="3" height="20" fill="#fff"/>
<rect x="1093" y="341" width="1" height="20"/>
<rect x="1091" y="344" width="5" height="4"/>
<rect x="1092" y="345" width="3" height="2" fill="#fff"/>
<rect x="1101" y="341" width="1" height="32"/>
<rect x="1099" y="344" width="5" height="1"/>
<rect x="1109" y="322" width="1" height="32"/>
<rect x="1107" y="343" width="5" height="7"/>
<rect x="1117" y="324" width="1" height="28"/>
<rect x="1115" y="349" width="5" height="1"/>
<rect x="1125" y="345" width="1" height="14"/>
<rect x="1123" y="348" width="5" height="4"/>
<rect x="1133" y="333" width="1" height="19"/>
<rect x="1131" y="340" width="5" height="12"/>
<rect x="1132" y="341" width="3" height="10" fill="#fff"/>
<rect x="1141" y="331" width="1" height="26"/>
<rect x="1139" y="331" width="5" height="10"/>
<rect x="1140" y="332" width="3" height="8" fill="#fff"/>
<rect x="1149" y="277" width="1" height="71"/>
<rect x="1147" y="278" width="5" height="54"/>
<rect x="1148" y="279" width="3" height="52" fill="#fff"/>
<rect x="1157" y="248" width="1" height="46"/>
<rect x="1155" y="252" width="5" height="26"/>
<rect x="1156" y="253" width="3" height="24" fill="#fff"/>
<rect x="1165" y="222" width="1" height="43"/>
<rect x="1163" y="252" width="5" height="5"/>
<rect x="1173" y="234" width="1" height="29"/>
<rect x="1171" y="251" width="5" height="5"/>
<rect x="1172" y="252" width="3" height="3" fill="#fff"/>
<rect x="1181" y="239" width="1" height="13"/>
<rect x="1179" y="247" width="5" height="5"/>
<rect x="1180" y="248" width="3" height="3" fill="#fff"/>
<rect x="1189" y="236" width="1" height="48"/>
<rect x="1187" y="247" width="5" height="32"/>
<rect x="1197" y="262" width="1" height="23"/>
<rect x="1195" y="270" width="5" height="9"/>
<rect x="1196" y="271" width="3" height="7" fill="#fff"/>
<rect x="1205" y="262" width="1" height="32"/>
<rect x="1203" y="269" width="5" height="17"/>
<rect x="1213" y="275" width="1" height="59"/>
<rect x="1211" y="285" width="5" height="9"/>
<rect x="1221" y="293" width="1" height="56"/>
<rect x="1219" y="293" width="5" height="46"/>
<rect x="1229" y="324" width="1" height="15"/>
<rect x="1227" y="325" width="5" height="14"/>
<rect x="1228" y="326" width="3" height="12" fill="#fff"/>
<rect x="1237" y="314" width="1" height="30"/>
<rect x="1235" y="330" width="5" height="1"/>
<rect x="1245" y="330" width="1" height="45"/>
<rect x="1243" y="330" width="5" height="38"/>
<rect x="1253" y="346" width="1" height="51"/>
<rect x="1251" y="366" width="5" height="26"/>
<rect x="1261" y="353" width="1" height="42"/>
<rect x="1259" y="381" width="5" height="12"/>
<rect x="1260" y="382" width="3" height="10" fill="#fff"/>
<rect x="1269" y="360" width="1" height="25"/>
<rect x="1267" y="376" width="5" height="7"/>
<rect x="1268" y="377" width="3" height="5" fill="#fff"/>
<rect x="1277" y="371" width="1" height="20"/>
<rect x="1275" y="378" width="5" height="8"/>
<rect x="1276" y="379" width="3" height="6" fill="#fff"/>
<rect x="1285" y="367" width="1" height="13"/>
<rect x="1283" y="373" width="5" height="6"/>
<rect x="1284" y="374" width="3" height="4" fill="#fff"/>
<rect x="1293" y="364" width="1" height="21"/>
<rect x="1291" y="373" width="5" height="9"/>
<rect x="1301" y="304" width="1" height="85"/>
<rect x="1299" y="317" width="5" height="64"/>
<rect x="1300" y="318" width="3" height="62" fill="#fff"/>
<rect x="1309" y="313" width="1" height="13"/>
<rect x="1307" y="317" width="5" height="1"/>
<rect x="1317" y="304" width="1" height="19"/>
<rect x="1315" y="312" width="5" height="5"/>
<rect x="1316" y="313" width="3" height="3" fill="#fff"/>
<rect x="1325" y="303" width="1" height="14"/>
<rect x="1323" y="307" width="5" height="7"/>
<rect x="1324" y="308" width="3" height="5" fill="#fff"/>
<rect x="1333" y="301" width="1" height="9"/>
<rect x="1331" y="304" width="5" height="3"/>
<rect x="1332" y="305" width="3" height="1" fill="#fff"/>
<rect x="1341" y="303" width="1" height="28"/>
<rect x="1339" y="304" width="5" height="27"/>
<rect x="1349" y="275" width="1" height="56"/>
<rect x="1347" y="324" width="5" height="1"/>
<rect x="1357" y="324" width="1" height="41"/>
<rect x="1355" y="324" width="5" height="21"/>
<rect x="1365" y="336" width="1" height="21"/>
<rect x="1363" y="344" width="5" height="1"/>
<rect x="1373" y="342" width="1" height="9"/>
<rect x="1371" y="344" width="5" height="1"/>
</g>
<rect x="1231" y="325" width="151" height="11" fill="#00ff00" shape-rendering="crispEdges"/>
<g shape-rendering="crispEdges">
<rect x="1486" y="330" width="8" height="1" fill="#ff0000"/>
<rect x="1493.5" y="328.5" width="3" height="3" fill="#fff" stroke="#ff0000" stroke-width="1"/>
<rect x="1496.5" y="318.5" width="73" height="24" fill="#fff" stroke="#ff0000" stroke-width="1"/>
</g>
<text x="1533.5" y="339.3" text-anchor="middle" font-family='"Liberation Sans", sans-serif' font-size="23.3" fill="#ff0000" stroke="#ff0000" stroke-width="0.5" textLength="71" lengthAdjust="spacingAndGlyphs">1.31386</text>
<g shape-rendering="crispEdges">
<rect x="1618" y="272" width="41" height="11" fill="#ff0000"/>
<rect x="1618" y="297" width="41" height="11" fill="#ff4500"/>
<rect x="1610" y="300" width="6" height="6" fill="#ff4500"/>
<rect x="1612" y="302" width="2" height="2" fill="#fff"/>
<rect x="-4" y="300" width="6" height="6" fill="#ff4500"/>
<rect x="1618" y="324" width="41" height="11" fill="#32cd32"/>
<rect x="1618" y="363" width="41" height="11" fill="#0000ff"/>
<rect x="1610" y="366" width="6" height="6" fill="#0000ff"/>
<rect x="1612" y="368" width="2" height="2" fill="#fff"/>
<rect x="-4" y="366" width="6" height="6" fill="#0000ff"/>
<rect x="1618" y="389" width="41" height="11" fill="#0000ff"/>
<rect x="1610" y="392" width="6" height="6" fill="#0000ff"/>
<rect x="1612" y="394" width="2" height="2" fill="#fff"/>
<rect x="-4" y="392" width="6" height="6" fill="#0000ff"/>
<rect x="1618" y="339" width="41" height="11" fill="#000"/>
</g>
<text transform="translate(1622,281) scale(0.95,1)" class="tg">1.32077</text>
<text transform="translate(1622,306) scale(0.95,1)" class="tg">1.31745</text>
<text transform="translate(1622,333) scale(0.95,1)" class="tg">1.31386</text>
<text transform="translate(1622,372) scale(0.95,1)" class="tg">1.30869</text>
<text transform="translate(1622,398) scale(0.95,1)" class="tg">1.30523</text>
<text transform="translate(1622,348) scale(0.95,1)" class="tg">1.31196</text>
<text x="1420" y="430" font-family='"Liberation Serif", serif' font-size="31" fill="#00ff00" textLength="161" lengthAdjust="spacingAndGlyphs" style="paint-order:stroke" stroke="#103010" stroke-width="1.1">多空转折点</text>
<g shape-rendering="crispEdges" fill="#c0c0c0">
<rect x="5" y="673" width="1" height="10"/>
<rect x="13" y="673" width="1" height="11"/>
<rect x="21" y="673" width="1" height="13"/>
<rect x="29" y="673" width="1" height="15"/>
<rect x="37" y="673" width="1" height="12"/>
<rect x="45" y="673" width="1" height="10"/>
<rect x="53" y="673" width="1" height="5"/>
<rect x="69" y="670" width="1" height="4"/>
<rect x="77" y="665" width="1" height="9"/>
<rect x="85" y="665" width="1" height="9"/>
<rect x="93" y="665" width="1" height="9"/>
<rect x="101" y="665" width="1" height="9"/>
<rect x="109" y="665" width="1" height="9"/>
<rect x="117" y="665" width="1" height="9"/>
<rect x="125" y="664" width="1" height="10"/>
<rect x="133" y="666" width="1" height="8"/>
<rect x="141" y="664" width="1" height="10"/>
<rect x="149" y="662" width="1" height="12"/>
<rect x="157" y="663" width="1" height="11"/>
<rect x="165" y="664" width="1" height="10"/>
<rect x="173" y="665" width="1" height="9"/>
<rect x="181" y="665" width="1" height="9"/>
<rect x="189" y="665" width="1" height="9"/>
<rect x="197" y="663" width="1" height="11"/>
<rect x="205" y="662" width="1" height="12"/>
<rect x="213" y="661" width="1" height="13"/>
<rect x="221" y="658" width="1" height="16"/>
<rect x="229" y="654" width="1" height="20"/>
<rect x="237" y="650" width="1" height="24"/>
<rect x="245" y="648" width="1" height="26"/>
<rect x="253" y="646" width="1" height="28"/>
<rect x="261" y="644" width="1" height="30"/>
<rect x="269" y="644" width="1" height="30"/>
<rect x="277" y="638" width="1" height="36"/>
<rect x="285" y="629" width="1" height="45"/>
<rect x="293" y="623" width="1" height="51"/>
<rect x="301" y="618" width="1" height="56"/>
<rect x="309" y="615" width="1" height="59"/>
<rect x="317" y="610" width="1" height="64"/>
<rect x="325" y="608" width="1" height="66"/>
<rect x="333" y="605" width="1" height="69"/>
<rect x="341" y="603" width="1" height="71"/>
<rect x="349" y="602" width="1" height="72"/>
<rect x="357" y="602" width="1" height="72"/>
<rect x="365" y="604" width="1" height="70"/>
<rect x="373" y="608" width="1" height="66"/>
<rect x="381" y="614" width="1" height="60"/>
<rect x="389" y="617" width="1" height="57"/>
<rect x="397" y="620" width="1" height="54"/>
<rect x="405" y="622" width="1" height="52"/>
<rect x="413" y="622" width="1" height="52"/>
<rect x="421" y="622" width="1" height="52"/>
<rect x="429" y="624" width="1" height="50"/>
<rect x="437" y="628" width="1" height="46"/>
<rect x="445" y="631" width="1" height="43"/>
<rect x="453" y="633" width="1" height="41"/>
<rect x="461" y="637" width="1" height="37"/>
<rect x="469" y="636" width="1" height="38"/>
<rect x="477" y="637" width="1" height="37"/>
<rect x="485" y="635" width="1" height="39"/>
<rect x="493" y="641" width="1" height="33"/>
<rect x="501" y="645" width="1" height="29"/>
<rect x="509" y="651" width="1" height="23"/>
<rect x="517" y="652" width="1" height="22"/>
<rect x="525" y="651" width="1" height="23"/>
<rect x="533" y="647" width="1" height="27"/>
<rect x="541" y="645" width="1" height="29"/>
<rect x="549" y="642" width="1" height="32"/>
<rect x="557" y="640" width="1" height="34"/>
<rect x="565" y="643" width="1" height="31"/>
<rect x="573" y="651" width="1" height="23"/>
<rect x="581" y="656" width="1" height="18"/>
<rect x="589" y="628" width="1" height="46"/>
<rect x="597" y="606" width="1" height="68"/>
<rect x="605" y="596" width="1" height="78"/>
<rect x="613" y="592" width="1" height="82"/>
<rect x="621" y="593" width="1" height="81"/>
<rect x="629" y="596" width="1" height="78"/>
<rect x="637" y="597" width="1" height="77"/>
<rect x="645" y="596" width="1" height="78"/>
<rect x="653" y="596" width="1" height="78"/>
<rect x="661" y="598" width="1" height="76"/>
<rect x="669" y="605" width="1" height="69"/>
<rect x="677" y="609" width="1" height="65"/>
<rect x="685" y="621" width="1" height="53"/>
<rect x="693" y="628" width="1" height="46"/>
<rect x="701" y="638" width="1" height="36"/>
<rect x="709" y="651" width="1" height="23"/>
<rect x="717" y="668" width="1" height="6"/>
<rect x="725" y="673" width="1" height="9"/>
<rect x="733" y="673" width="1" height="21"/>
<rect x="741" y="673" width="1" height="32"/>
<rect x="749" y="673" width="1" height="41"/>
<rect x="757" y="673" width="1" height="47"/>
<rect x="765" y="673" width="1" height="53"/>
<rect x="773" y="673" width="1" height="56"/>
<rect x="781" y="673" width="1" height="58"/>
<rect x="789" y="673" width="1" height="59"/>
<rect x="797" y="673" width="1" height="56"/>
<rect x="805" y="673" width="1" height="58"/>
<rect x="813" y="673" width="1" height="63"/>
<rect x="821" y="673" width="1" height="67"/>
<rect x="829" y="673" width="1" height="69"/>
<rect x="837" y="673" width="1" height="69"/>
<rect x="845" y="673" width="1" height="69"/>
<rect x="853" y="673" width="1" height="68"/>
<rect x="861" y="673" width="1" height="64"/>
<rect x="869" y="673" width="1" height="63"/>
<rect x="877" y="673" width="1" height="62"/>
<rect x="885" y="673" width="1" height="61"/>
<rect x="893" y="673" width="1" height="58"/>
<rect x="901" y="673" width="1" height="59"/>
<rect x="909" y="673" width="1" height="64"/>
<rect x="917" y="673" width="1" height="66"/>
<rect x="925" y="673" width="1" height="67"/>
<rect x="933" y="673" width="1" height="66"/>
<rect x="941" y="673" width="1" height="67"/>
<rect x="949" y="673" width="1" height="64"/>
<rect x="957" y="673" width="1" height="60"/>
<rect x="965" y="673" width="1" height="57"/>
<rect x="973" y="673" width="1" height="56"/>
<rect x="981" y="673" width="1" height="51"/>
<rect x="989" y="673" width="1" height="45"/>
<rect x="997" y="673" width="1" height="40"/>
<rect x="1005" y="673" width="1" height="37"/>
<rect x="1013" y="673" width="1" height="32"/>
<rect x="1021" y="673" width="1" height="26"/>
<rect x="1029" y="673" width="1" height="22"/>
<rect x="1037" y="673" width="1" height="19"/>
<rect x="1045" y="673" width="1" height="12"/>
<rect x="1053" y="673" width="1" height="3"/>
<rect x="1061" y="669" width="1" height="5"/>
<rect x="1069" y="662" width="1" height="12"/>
<rect x="1077" y="657" width="1" height="17"/>
<rect x="1085" y="651" width="1" height="23"/>
<rect x="1093" y="646" width="1" height="28"/>
<rect x="1101" y="643" width="1" height="31"/>
<rect x="1109" y="641" width="1" height="33"/>
<rect x="1117" y="640" width="1" height="34"/>
<rect x="1125" y="640" width="1" height="34"/>
<rect x="1133" y="639" width="1" height="35"/>
<rect x="1141" y="637" width="1" height="37"/>
<rect x="1149" y="630" width="1" height="44"/>
<rect x="1157" y="621" width="1" height="53"/>
<rect x="1165" y="615" width="1" height="59"/>
<rect x="1173" y="611" width="1" height="63"/>
<rect x="1181" y="607" width="1" height="67"/>
<rect x="1189" y="610" width="1" height="64"/>
<rect x="1197" y="611" width="1" height="63"/>
<rect x="1205" y="615" width="1" height="59"/>
<rect x="1213" y="619" width="1" height="55"/>
<rect x="1221" y="629" width="1" height="45"/>
<rect x="1229" y="636" width="1" height="38"/>
<rect x="1237" y="642" width="1" height="32"/>
<rect x="1245" y="652" width="1" height="22"/>
<rect x="1253" y="663" width="1" height="11"/>
<rect x="1261" y="671" width="1" height="3"/>
<rect x="1269" y="673" width="1" height="2"/>
<rect x="1277" y="673" width="1" height="6"/>
<rect x="1285" y="673" width="1" height="9"/>
<rect x="1293" y="673" width="1" height="12"/>
<rect x="1301" y="673" width="1" height="6"/>
<rect x="1309" y="673" width="1" height="2"/>
<rect x="1317" y="671" width="1" height="3"/>
<rect x="1325" y="667" width="1" height="7"/>
<rect x="1333" y="664" width="1" height="10"/>
<rect x="1341" y="665" width="1" height="9"/>
<rect x="1349" y="665" width="1" height="9"/>
<rect x="1357" y="667" width="1" height="7"/>
<rect x="1365" y="669" width="1" height="5"/>
<rect x="1373" y="671" width="1" height="3"/>
</g>
<polyline points="0,684.3 5,684.3 13,684.4 21,684.6 29,685.1 37,685.3 45,685.3 53,684.7 61,683.5 69,681.9 77,679.8 85,677.5 93,675.1 101,672.5 109,670.2 117,668.0 125,666.4 133,665.5 141,664.7 149,664.4 157,664.2 165,664.1 173,664.1 181,664.1 189,664.1 197,664.0 205,663.6 213,663.3 221,662.9 229,661.9 237,660.3 245,658.4 253,656.3 261,654.0 269,651.8 277,649.2 285,645.6 293,641.7 301,637.7 309,633.8 317,629.6 325,625.4 333,621.0 341,616.4 349,612.3 357,609.4 365,607.2 373,606.0 381,606.0 389,606.7 397,608.0 405,609.9 413,612.1 421,614.3 429,616.8 437,619.4 445,622.0 453,624.1 461,626.3 469,628.2 477,629.8 485,631.3 493,633.4 501,635.6 509,638.2 517,640.5 525,642.5 533,643.6 541,644.6 549,645.2 557,645.8 565,646.0 573,646.7 581,647.3 589,644.7 597,639.7 605,634.1 613,628.1 621,622.7 629,617.8 637,612.7 645,606.6 653,599.9 661,596.6 669,596.4 677,597.8 685,601.1 693,604.9 701,609.7 709,615.6 717,623.6 725,633.4 733,644.1 741,655.3 749,667.1 757,678.1 765,689.1 773,699.3 781,708.3 789,715.5 797,720.8 805,724.9 813,728.3 821,731.2 829,733.7 837,735.5 845,737.0 853,738.1 861,738.6 869,739.3 877,739.8 885,739.6 893,738.6 901,737.4 909,736.9 917,736.5 925,736.3 933,736.6 941,737.0 949,737.2 957,737.2 965,737.1 973,736.8 981,735.4 989,733.1 997,730.1 1005,727.0 1013,723.1 1021,718.8 1029,714.6 1037,710.3 1045,705.4 1053,700.1 1061,694.5 1069,688.7 1077,682.7 1085,676.6 1093,670.6 1101,664.7 1109,658.9 1117,653.8 1125,649.6 1133,646.3 1141,643.5 1149,640.4 1157,637.1 1165,633.6 1173,630.1 1181,626.3 1189,623.0 1197,619.8 1205,617.1 1213,615.1 1221,615.1 1229,616.8 1237,619.8 1245,624.4 1253,630.5 1261,637.3 1269,644.6 1277,651.9 1285,659.0 1293,665.3 1301,670.2 1309,674.0 1317,676.1 1325,676.6 1333,675.9 1341,674.6 1349,672.9 1357,671.1 1365,669.2 1373,668.2" fill="none" stroke="#ff0000" stroke-width="1" stroke-dasharray="3 3" shape-rendering="crispEdges"/>
<text x="1" y="594" class="lb">MACD(12,26,9) 0.000250 0.000483</text>
<g shape-rendering="crispEdges">
<rect x="1617" y="583" width="2" height="1" fill="#000"/>
<rect x="1617" y="674" width="2" height="1" fill="#000"/>
<rect x="1617" y="750" width="2" height="1" fill="#000"/>
</g>
<text transform="translate(1620,592) scale(0.95,1)" class="ax">0.007538</text>
<text transform="translate(1620,677) scale(0.95,1)" class="ax">0.00</text>
<text transform="translate(1620,748) scale(0.95,1)" class="ax">-0.006446</text>
<g shape-rendering="crispEdges">
<line x1="0" y1="789.5" x2="1616" y2="789.5" stroke="#c0c0c0" stroke-width="1" stroke-dasharray="3 3" stroke-dashoffset="2"/>
<line x1="0" y1="840.5" x2="1616" y2="840.5" stroke="#c0c0c0" stroke-width="1" stroke-dasharray="3 3" stroke-dashoffset="2"/>
<line x1="0" y1="901.5" x2="1616" y2="901.5" stroke="#c0c0c0" stroke-width="1" stroke-dasharray="3 3" stroke-dashoffset="2"/>
<rect x="1617" y="755" width="2" height="1" fill="#000"/>
<rect x="1617" y="789" width="2" height="1" fill="#000"/>
<rect x="1617" y="840" width="2" height="1" fill="#000"/>
<rect x="1617" y="901" width="2" height="1" fill="#000"/>
<rect x="1617" y="920" width="2" height="1" fill="#000"/>
</g>
<polyline points="0,859.1 5,847.9 13,851.3 21,853.2 29,860.5 37,836.9 45,842.1 53,829.7 61,825.3 69,826.9 77,822.0 85,833.6 93,837.4 101,836.5 109,834.2 117,834.2 125,832.1 133,840.6 141,826.7 149,827.9 157,837.4 165,838.5 173,835.2 181,835.9 189,835.2 197,824.0 205,826.3 213,827.1 221,816.7 229,808.0 237,808.8 245,808.8 253,807.5 261,806.2 269,810.4 277,793.3 285,785.0 293,791.5 301,789.8 309,788.7 317,785.5 325,788.2 333,784.7 341,784.0 349,786.8 357,786.6 365,788.8 373,807.4 381,823.2 389,812.8 397,812.8 405,810.9 413,803.7 421,803.7 429,813.8 437,819.2 445,818.8 453,817.3 461,825.0 469,811.2 477,815.3 485,805.7 493,839.2 501,836.6 509,844.4 517,832.9 525,825.6 533,818.3 541,821.4 549,815.8 557,817.4 565,832.4 573,849.2 581,844.9 589,797.0 597,796.6 605,810.1 613,815.5 621,823.9 629,824.3 637,822.5 645,817.9 653,817.9 661,822.1 669,830.2 677,827.6 685,843.7 693,838.4 701,845.9 709,852.8 717,862.2 725,864.4 733,863.8 741,866.6 749,867.9 757,865.9 765,869.3 773,865.9 781,866.1 789,865.3 797,857.1 805,865.6 813,872.0 821,874.1 829,871.9 837,870.5 845,871.9 853,869.4 861,858.7 869,866.1 877,867.7 885,866.1 893,862.5 901,870.5 909,880.2 917,874.1 925,873.1 933,872.5 941,876.1 949,866.5 957,860.2 965,861.9 973,867.8 981,853.0 989,848.0 997,845.8 1005,854.1 1013,841.4 1021,839.8 1029,841.1 1037,841.5 1045,829.3 1053,819.1 1061,815.8 1069,815.8 1077,817.0 1085,810.3 1093,809.7 1101,809.7 1109,813.3 1117,813.3 1125,814.9 1133,810.3 1141,806.8 1149,792.0 1157,787.1 1165,790.1 1173,789.1 1181,788.3 1189,810.9 1197,808.5 1205,818.0 1213,822.9 1221,844.8 1229,839.3 1237,841.4 1245,855.6 1253,862.9 1261,858.1 1269,855.7 1277,856.4 1285,853.8 1293,856.9 1301,829.3 1309,829.3 1317,827.5 1325,825.7 1333,824.5 1341,837.8 1349,835.2 1357,844.4 1365,844.4 1373,844.4" fill="none" stroke="#1e90ff" stroke-width="1" shape-rendering="crispEdges"/>
<text x="1" y="766" class="lb">RSI(14) 47.5760</text>
<text transform="translate(1620,764.5) scale(0.95,1)" class="ax">100</text>
<text transform="translate(1620,793.5) scale(0.95,1)" class="ax">80</text>
<text transform="translate(1620,843.5) scale(0.95,1)" class="ax">50</text>
<text transform="translate(1620,904.5) scale(0.95,1)" class="ax">15</text>
<text transform="translate(1620,923.5) scale(0.95,1)" class="ax">0</text>
<g shape-rendering="crispEdges">
<rect x="61" y="928" width="1" height="3" fill="#000"/>
<rect x="125" y="928" width="1" height="3" fill="#000"/>
<rect x="189" y="928" width="1" height="3" fill="#000"/>
<rect x="253" y="928" width="1" height="3" fill="#000"/>
<rect x="317" y="928" width="1" height="3" fill="#000"/>
<rect x="381" y="928" width="1" height="3" fill="#000"/>
<rect x="445" y="928" width="1" height="3" fill="#000"/>
<rect x="509" y="928" width="1" height="3" fill="#000"/>
<rect x="573" y="928" width="1" height="3" fill="#000"/>
<rect x="637" y="928" width="1" height="3" fill="#000"/>
<rect x="701" y="928" width="1" height="3" fill="#000"/>
<rect x="765" y="928" width="1" height="3" fill="#000"/>
<rect x="829" y="928" width="1" height="3" fill="#000"/>
<rect x="893" y="928" width="1" height="3" fill="#000"/>
<rect x="957" y="928" width="1" height="3" fill="#000"/>
<rect x="1021" y="928" width="1" height="3" fill="#000"/>
<rect x="1085" y="928" width="1" height="3" fill="#000"/>
<rect x="1149" y="928" width="1" height="3" fill="#000"/>
<rect x="1213" y="928" width="1" height="3" fill="#000"/>
<rect x="1277" y="928" width="1" height="3" fill="#000"/>
<rect x="1341" y="928" width="1" height="3" fill="#000"/>
</g>
<text transform="translate(-3,940) scale(0.94,1)" class="dt">26 Nov 2019</text>
<text transform="translate(60,940) scale(0.94,1)" class="dt">27 Nov 20:00</text>
<text transform="translate(124,940) scale(0.94,1)" class="dt">29 Nov 04:00</text>
<text transform="translate(188,940) scale(0.94,1)" class="dt">2 Dec 12:00</text>
<text transform="translate(252,940) scale(0.94,1)" class="dt">3 Dec 20:00</text>
<text transform="translate(316,940) scale(0.94,1)" class="dt">5 Dec 04:00</text>
<text transform="translate(380,940) scale(0.94,1)" class="dt">6 Dec 12:00</text>
<text transform="translate(444,940) scale(0.94,1)" class="dt">9 Dec 20:00</text>
<text transform="translate(508,940) scale(0.94,1)" class="dt">11 Dec 04:00</text>
<text transform="translate(572,940) scale(0.94,1)" class="dt">12 Dec 12:00</text>
<text transform="translate(636,940) scale(0.94,1)" class="dt">15 Dec 23:00</text>
<text transform="translate(700,940) scale(0.94,1)" class="dt">17 Dec 04:00</text>
<text transform="translate(764,940) scale(0.94,1)" class="dt">18 Dec 12:00</text>
<text transform="translate(828,940) scale(0.94,1)" class="dt">19 Dec 20:00</text>
<text transform="translate(892,940) scale(0.94,1)" class="dt">23 Dec 04:00</text>
<text transform="translate(956,940) scale(0.94,1)" class="dt">24 Dec 12:00</text>
<text transform="translate(1020,940) scale(0.94,1)" class="dt">26 Dec 16:00</text>
<text transform="translate(1084,940) scale(0.94,1)" class="dt">30 Dec 00:00</text>
<text transform="translate(1148,940) scale(0.94,1)" class="dt">31 Dec 08:00</text>
<text transform="translate(1212,940) scale(0.94,1)" class="dt">2 Jan 12:00</text>
<text transform="translate(1276,940) scale(0.94,1)" class="dt">5 Jan 23:00</text>
<text transform="translate(1340,940) scale(0.94,1)" class="dt">7 Jan 04:00</text>
<polygon points="1,38 7,38 4,34" fill="#000"/>
<text x="12" y="38" class="lb">GBPUSD-,H4&#160; 1.31194 1.31223 1.31131 1.31196</text>
</svg>
<div class="ocp" style="left:0;top:46px;width:51px;height:24px;background:linear-gradient(#f25a5a,#e23a3a);"></div>
<div class="ocp" style="left:4px;top:69px;width:44px;height:1px;background:#f08080;"></div>
<div class="ocp" style="left:167px;top:46px;width:52px;height:24px;background:linear-gradient(#f25a5a,#e23a3a);"></div>
<div class="ocp" style="left:171px;top:69px;width:44px;height:1px;background:#f08080;"></div>
<div class="ocp" style="left:0;top:70px;width:109px;height:40px;background:linear-gradient(#e02828,#b00808);"></div>
<div class="ocp" style="left:111px;top:70px;width:108px;height:40px;background:linear-gradient(#e02828,#b00808);"></div>
<div class="ocp" style="left:54px;top:46px;width:111px;height:22px;background:#fff;border:1px solid #a8a8b8;box-sizing:border-box;"></div>
<div class="ocp" style="left:55px;top:47px;width:20px;height:20px;background:linear-gradient(#f4f4f4,#d8d8d8);border-right:1px solid #b8b8c0;"></div>
<div class="ocp" style="left:144px;top:47px;width:20px;height:20px;background:linear-gradient(#f4f4f4,#d8d8d8);border-left:1px solid #b8b8c0;"></div>
<svg class="ocp" style="left:0;top:0" width="220" height="112"><path d="M62,55.5 L67,55.5 L64.5,58 Z" fill="#5060b0"/><path d="M151,58 L156,58 L153.5,55.5 Z" fill="#5060b0"/></svg>
<div class="ocp" style="left:0;top:50px;width:51px;text-align:center;font-size:12px;color:#fff;transform:scaleX(0.89)">SELL</div>
<div class="ocp" style="left:167px;top:50px;width:52px;text-align:center;font-size:12px;color:#fff;transform:scaleX(0.92)">BUY</div>
<div class="ocp" style="left:80px;top:50px;width:60px;text-align:right;font-size:12px;color:#000;">1.00</div>
<div class="ocp" style="left:20px;top:90px;font-size:12px;font-weight:bold;color:#fff;">1.31</div>
<div class="ocp" style="left:47px;top:68px;font-size:34px;color:#fff;">19</div>
<div class="ocp" style="left:87px;top:74px;font-size:11px;font-weight:bold;color:#fff;">6</div>
<div class="ocp" style="left:131px;top:90px;font-size:12px;font-weight:bold;color:#fff;">1.31</div>
<div class="ocp" style="left:159px;top:68px;font-size:34px;color:#fff;">25</div>
<div class="ocp" style="left:198px;top:74px;font-size:11px;font-weight:bold;color:#fff;">5</div>
</body></html>
